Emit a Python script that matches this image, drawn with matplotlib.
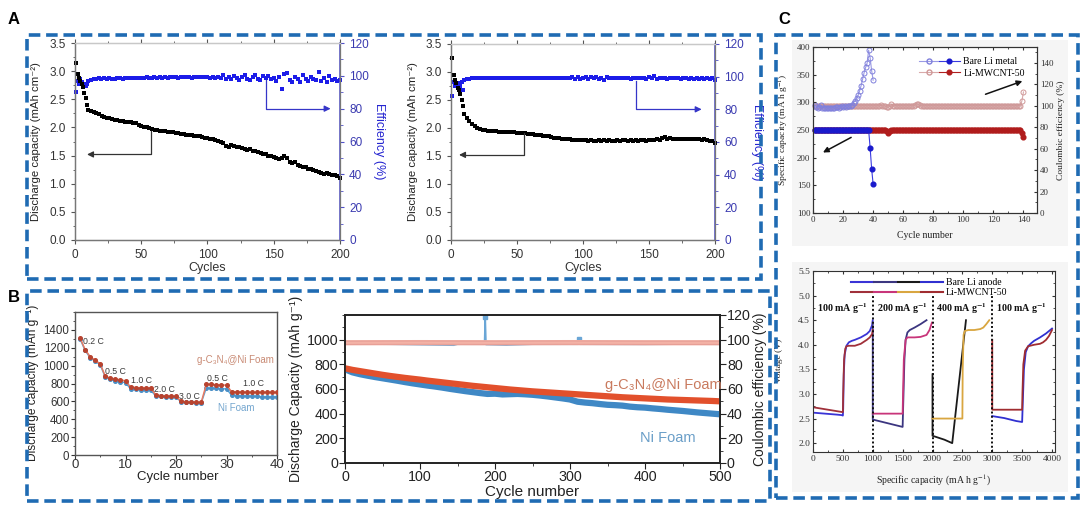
import numpy as np
import matplotlib
matplotlib.use("Agg")
import matplotlib.pyplot as plt
from matplotlib.patches import Rectangle
from matplotlib.lines import Line2D
from matplotlib.legend_handler import HandlerTuple
from matplotlib.ticker import MultipleLocator

# ---------------- DATA ----------------
# Panel A (left): discharge capacity / efficiency, cycles 1..10 then every 2 cycles
a1_cap_first = [3.15, 2.95, 2.88, 2.82, 2.78, 2.72, 2.62, 2.52, 2.40, 2.31]
a1_cap_rest = [2.29, 2.27, 2.25, 2.23, 2.21, 2.19, 2.17, 2.16, 2.15, 2.14, 2.13, 2.12, 2.11, 2.10, 2.09,
               2.09, 2.08, 2.07, 2.05, 2.03, 2.01, 2.00, 1.99, 1.97, 1.96, 1.95, 1.94, 1.94, 1.93, 1.92,
               1.92, 1.91, 1.90, 1.90, 1.89, 1.88, 1.87, 1.87, 1.86, 1.85, 1.84, 1.84, 1.83, 1.82, 1.81,
               1.80, 1.79, 1.78, 1.76, 1.74, 1.72, 1.67, 1.66, 1.68, 1.67, 1.66, 1.66, 1.64, 1.62, 1.60,
               1.61, 1.59, 1.58, 1.56, 1.55, 1.53, 1.52, 1.50, 1.49, 1.47, 1.45, 1.44, 1.46, 1.49, 1.45,
               1.38, 1.36, 1.39, 1.34, 1.31, 1.30, 1.29, 1.27, 1.26, 1.24, 1.22, 1.20, 1.19, 1.18, 1.19,
               1.17, 1.15, 1.16, 1.13, 1.11]
a1_eff_first = [90, 97, 95, 98, 96, 94, 95, 94, 95, 97]
a1_eff_rest = [97.5, 98.0, 98.2, 98.5, 98.0, 98.4, 98.1, 98.6, 98.3, 98.0, 98.5, 98.7, 98.2, 98.6, 98.8,
               98.4, 98.7, 98.5, 98.9, 98.6, 98.8, 99.0, 98.7, 98.9, 99.1, 98.8, 99.0, 98.9, 99.2, 98.9,
               99.1, 99.0, 99.2, 98.9, 99.3, 99.0, 99.1, 99.2, 98.9, 99.3, 99.1, 99.0, 99.4, 99.1, 99.2,
               98.8, 99.5, 98.7, 99.3, 98.5, 100.5, 98.2, 99.0, 97.8, 100.2, 98.6, 97.5, 99.4, 100.3, 98.0,
               97.6, 99.1, 100.6, 98.3, 97.2, 99.8, 98.4, 100.1, 97.9, 98.8, 97.0, 99.5, 92.0, 100.9, 101.5,
               97.3, 96.1, 99.2, 98.0, 96.5, 100.4, 97.8, 96.9, 99.0, 98.3, 97.4, 102.3, 97.0, 98.6, 96.4,
               99.7, 97.2, 98.1, 96.8, 97.5]

# Panel A (right)
a2_cap_first = [3.25, 2.95, 2.85, 2.80, 2.72, 2.68, 2.60, 2.50, 2.40, 2.25]
a2_cap_rest = [2.18, 2.12, 2.08, 2.04, 2.00, 1.98, 1.97, 1.96, 1.95, 1.95, 1.94, 1.94, 1.93, 1.93, 1.92,
               1.92, 1.92, 1.92, 1.92, 1.91, 1.91, 1.91, 1.91, 1.90, 1.90, 1.89, 1.88, 1.88, 1.87, 1.86,
               1.85, 1.85, 1.84, 1.83, 1.83, 1.82, 1.81, 1.81, 1.80, 1.80, 1.79, 1.79, 1.79, 1.78, 1.78,
               1.78, 1.77, 1.78, 1.77, 1.76, 1.78, 1.77, 1.78, 1.77, 1.78, 1.77, 1.76, 1.78, 1.77, 1.78,
               1.78, 1.77, 1.78, 1.77, 1.78, 1.77, 1.78, 1.78, 1.77, 1.78, 1.79, 1.78, 1.80, 1.78, 1.82,
               1.84, 1.81, 1.82, 1.80, 1.81, 1.80, 1.81, 1.80, 1.81, 1.80, 1.80, 1.81, 1.80, 1.80, 1.79,
               1.80, 1.78, 1.76, 1.77, 1.74]
a2_eff_first = [88, 97, 94, 96, 95, 96, 94, 97, 92, 98]
a2_eff_rest = [98.5, 98.8, 99.0, 98.9, 99.1, 99.0, 99.2, 99.0, 99.1, 99.2, 99.0, 99.2, 99.1, 99.3, 99.0,
               99.2, 99.1, 99.3, 99.2, 99.0, 99.2, 99.3, 99.1, 99.2, 99.0, 99.3, 99.2, 99.1, 99.3, 99.2,
               99.0, 99.2, 99.3, 99.1, 99.2, 99.4, 99.0, 99.3, 99.1, 99.2, 99.5, 98.8, 99.6, 98.7, 99.4,
               100.0, 98.6, 99.7, 98.9, 100.1, 98.5, 99.3, 97.8, 99.6, 99.0, 99.3, 99.1, 98.9, 99.2, 99.4,
               99.0, 99.2, 98.8, 99.3, 99.1, 98.9, 99.2, 99.3, 98.8, 99.5, 99.1, 100.2, 98.7, 99.4, 99.0,
               99.3, 98.8, 99.1, 99.4, 98.9, 99.2, 98.6, 99.0, 99.3, 98.8, 99.1, 98.5, 99.0, 98.7, 99.2,
               98.6, 98.9, 98.4, 99.1, 98.2]

# Panel B (left): rate capability
b1_cycles = list(range(1, 41))
b1_gcn = [1310, 1180, 1100, 1060, 1020, 880, 860, 850, 840, 830,
          760, 755, 750, 750, 750, 670, 665, 660, 660, 655,
          600, 595, 595, 590, 590, 790, 790, 785, 785, 780,
          710, 705, 705, 700, 700, 700, 700, 700, 700, 700]
b1_ni = [1300, 1170, 1090, 1050, 1010, 870, 845, 830, 820, 810,
         740, 735, 730, 730, 725, 660, 655, 650, 650, 650,
         595, 590, 590, 585, 585, 750, 745, 745, 740, 740,
         670, 665, 660, 660, 655, 655, 650, 650, 650, 650]
b1_rates = ["0.2 C", "0.5 C", "1.0 C", "2.0 C", "3.0 C", "0.5 C", "1.0 C"]

# Panel B (right): long cycling at every 10 cycles
b2_cycles = list(range(0, 501, 10))
b2_gcn = [768, 755, 745, 735, 725, 715, 706, 698, 690, 683, 676, 668, 661, 654, 647, 640, 633, 626, 620,
          614, 608, 602, 596, 591, 586, 581, 577, 573, 569, 565, 561, 557, 553, 549, 545, 541, 537, 533,
          530, 527, 524, 521, 518, 515, 513, 511, 509, 507, 505, 503, 500]
b2_ni = [760, 735, 720, 708, 697, 687, 677, 667, 656, 646, 637, 628, 620, 611, 601, 592, 583, 575, 567,
         560, 562, 556, 558, 560, 557, 553, 547, 540, 532, 524, 515, 497, 490, 485, 478, 472, 469, 465,
         457, 452, 449, 443, 438, 432, 427, 422, 416, 410, 405, 400, 395]
b2_gcn_ce_cycles = [1, 100, 200, 300, 400, 500]
b2_gcn_ce = [97.5, 97.6, 97.5, 97.6, 97.5, 97.5]
b2_ni_ce_cycles = [1, 5, 60, 145, 150, 186, 187, 188, 215, 250, 311, 312, 313, 400, 450, 500]
b2_ni_ce = [99, 96.5, 96.3, 95.5, 96.3, 96.3, 118, 96.0, 95.6, 96.3, 96.3, 100.5, 96.3, 96.2, 96.4, 96.3]

# Panel C (top): cycling of bare Li vs Li-MWCNT-50
c1_bare_cycles = list(range(1, 41))
c1_bare_cap = [250, 250, 250, 250, 250, 250, 250, 250, 250, 250,
               250, 250, 250, 250, 250, 250, 250, 250, 250, 250,
               250, 250, 250, 250, 250, 250, 250, 250, 250, 250,
               250, 250, 250, 250, 250, 250, 250, 218, 180, 152]
c1_bare_ce = [101, 99, 98.5, 99, 101, 98.5, 98, 98.5, 98, 98,
              98, 98.5, 98, 98.5, 99, 99, 98.5, 99, 99.5, 99,
              99.5, 99, 100, 99.5, 100, 101, 103, 105, 107, 110,
              114, 119, 125, 131, 136, 140, 152, 145, 133, 124]
c1_mw_cycles = list(range(1, 141))
c1_mw_cap = [250, 250, 250, 250, 250, 250, 250, 250, 250, 250, 250, 250, 250, 250, 250, 250, 250, 250, 250, 250,
             250, 250, 250, 250, 250, 250, 250, 250, 250, 250, 250, 250, 250, 250, 250, 250, 250, 250, 250, 250,
             250, 250, 250, 250, 250, 250, 250, 250, 249, 244, 249, 250, 250, 250, 250, 250, 250, 250, 250, 250,
             250, 250, 250, 250, 250, 250, 250, 250, 250, 250, 250, 250, 250, 250, 250, 250, 250, 250, 250, 250,
             250, 250, 250, 250, 250, 250, 250, 250, 250, 250, 250, 250, 250, 250, 250, 250, 250, 250, 250, 250,
             250, 250, 250, 250, 250, 250, 250, 250, 250, 250, 250, 250, 250, 250, 250, 250, 250, 250, 250, 250,
             250, 250, 250, 250, 250, 250, 250, 250, 250, 250, 250, 250, 250, 250, 250, 250, 250, 250, 244, 238]
c1_mw_ce = [100, 100, 100, 100, 100, 100, 100, 100, 100, 100, 100, 100, 100, 100, 100, 100, 100, 100, 100, 100,
            100, 100, 100, 100, 100, 100, 100, 100, 100, 100, 100, 100, 100, 100, 100, 100, 100, 100, 100, 100,
            100, 100, 100, 100, 100.8, 100, 100, 100, 99.3, 98.6, 100.3, 101.5, 100, 100, 100, 100, 100, 100, 100, 100,
            100, 100, 100, 100, 100, 100, 100, 101.2, 102, 101.6, 100.6, 100, 100, 100, 100, 100, 100, 100, 100, 100,
            100, 100, 100, 100, 100, 100, 100, 100, 100, 100, 100, 100, 100, 100, 100, 100, 100, 100, 100, 100,
            100, 100, 100, 100, 100, 100, 100, 100, 100, 100, 100, 100, 100, 100, 100, 100, 100, 100, 100, 100,
            100, 100, 100, 100, 100, 100, 100, 100, 100, 100, 100, 100, 100, 100, 100, 100, 100, 100, 105, 113]

# Panel C (bottom): voltage profiles, 4 current densities
c2_rates = ["100 mA g$^{\\mathbf{-1}}$", "200 mA g$^{\\mathbf{-1}}$", "400 mA g$^{\\mathbf{-1}}$", "100 mA g$^{\\mathbf{-1}}$"]
c2_bare_x = [[0, 100, 200, 300, 400, 480, 500, 505, 515, 530, 560, 600, 650, 700, 800, 900, 950, 990, 1000],
             [1000, 1000, 1100, 1200, 1300, 1400, 1500, 1510, 1530, 1550, 1580, 1620, 1700, 1800, 1900],
             [2000, 2000, 2100, 2200, 2330, 2560],
             [3000, 3100, 3200, 3300, 3400, 3500, 3510, 3530, 3560, 3600, 3650, 3700, 3800, 3900, 4000]]
c2_bare_y = [[2.62, 2.61, 2.60, 2.59, 2.58, 2.57, 2.56, 2.70, 3.40, 3.80, 3.98, 4.05, 4.08, 4.10, 4.15, 4.22, 4.28, 4.40, 4.50],
             [4.45, 2.48, 2.45, 2.42, 2.39, 2.36, 2.33, 2.80, 3.70, 4.10, 4.25, 4.30, 4.35, 4.42, 4.50],
             [3.40, 2.15, 2.11, 2.07, 2.00, 4.50],
             [2.55, 2.53, 2.51, 2.48, 2.45, 2.43, 2.80, 3.50, 3.85, 3.97, 4.03, 4.08, 4.15, 4.23, 4.33]]
c2_mw_x = [[0, 100, 200, 300, 400, 500, 505, 520, 540, 560, 600, 700, 800, 900, 950, 990, 1000],
           [1000, 1500, 1505, 1520, 1550, 1580, 1620, 1700, 1800, 1900, 1950, 1990],
           [2000, 2500, 2505, 2520, 2540, 2600, 2700, 2800, 2850, 2900, 2950],
           [3000, 3000, 3500, 3505, 3520, 3550, 3600, 3700, 3800, 3850, 3900, 3950, 4000]]
c2_mw_y = [[2.73, 2.71, 2.69, 2.67, 2.65, 2.63, 3.00, 3.70, 3.92, 3.97, 3.98, 3.98, 4.02, 4.10, 4.15, 4.22, 4.30],
           [2.60, 2.60, 2.90, 3.70, 4.10, 4.15, 4.15, 4.15, 4.16, 4.20, 4.30, 4.45],
           [2.50, 2.50, 3.50, 4.20, 4.28, 4.30, 4.30, 4.32, 4.35, 4.42, 4.50],
           [4.10, 2.68, 2.68, 3.00, 3.60, 3.88, 3.97, 4.00, 4.02, 4.05, 4.10, 4.18, 4.30]]
c2_bare_colors = ["#3a34d6", "#3c3680", "#1a1a1a", "#3030d0"]
c2_mw_colors = ["#a0303a", "#c8357a", "#d9a640", "#a02c30"]

# ---------------- STYLE / LAYOUT ----------------
W, H = 1084, 507
fig = plt.figure(figsize=(W / 100, H / 100), dpi=100)
SANS = ["Liberation Sans", "DejaVu Sans"]
SERIF = ["Liberation Serif", "DejaVu Serif"]
BOXC = "#1f6bb3"


def rect(x0, y0, x1, y1):
    return [x0 / W, 1 - y1 / H, (x1 - x0) / W, (y1 - y0) / H]


def ftext(x, y, s, **kw):
    return fig.text(x / W, 1 - y / H, s, **kw)


def box(x0, y0, x1, y1):
    fig.patches.append(Rectangle((x0 / W, 1 - y1 / H), (x1 - x0) / W, (y1 - y0) / H,
                                 transform=fig.transFigure, fill=False, ec=BOXC, lw=2.6,
                                 ls=(0, (3.2, 1.6)), zorder=5))


# light background behind panel C plots
fig.patches.append(Rectangle((792 / W, 1 - 246 / H), (1068 - 792) / W, (246 - 40) / H,
                             transform=fig.transFigure, fc="#f5f5f5", ec="none", zorder=-10))
fig.patches.append(Rectangle((792 / W, 1 - 492 / H), (1068 - 792) / W, (492 - 262) / H,
                             transform=fig.transFigure, fc="#f5f5f5", ec="none", zorder=-10))

# Dashed boxes
box(27, 35, 761, 279)
box(27, 291, 770, 501)
box(776, 35, 1078, 498)

# Panel letters
ftext(8, 20, "A", fontsize=12, fontweight="bold", family=SANS, va="center")
ftext(8, 297, "B", fontsize=12, fontweight="bold", family=SANS, va="center")
ftext(778, 20, "C", fontsize=12, fontweight="bold", family=SANS, va="center")


# ---------------- PANEL A ----------------
def panel_a(r, cap_first, cap_rest, eff_first, eff_rest, cap_arrow, eff_arrow, ylab_x, effl_x, xl_x):
    cyc = list(range(1, 11)) + list(range(12, 12 + 2 * len(cap_rest), 2))
    cyc_e = list(range(1, 11)) + list(range(12, 12 + 2 * len(eff_rest), 2))
    ax = fig.add_axes(rect(*r))
    axr = ax.twinx()
    ax.set_zorder(2)
    ax.patch.set_visible(False)
    axr.plot(cyc_e, eff_first + eff_rest, "s", color="#1c1ce8", ms=3.4, mew=0, clip_on=False)
    ax.plot(cyc, cap_first + cap_rest, "s", color="black", ms=3.4, mew=0, clip_on=False)
    ax.set_xlim(0, 200)
    ax.set_ylim(0, 3.5)
    axr.set_ylim(0, 120)
    ax.xaxis.set_major_locator(MultipleLocator(50))
    ax.xaxis.set_minor_locator(MultipleLocator(25))
    ax.yaxis.set_major_locator(MultipleLocator(0.5))
    ax.yaxis.set_minor_locator(MultipleLocator(0.25))
    axr.yaxis.set_major_locator(MultipleLocator(20))
    axr.yaxis.set_minor_locator(MultipleLocator(10))
    ax.yaxis.set_major_formatter(matplotlib.ticker.FormatStrFormatter("%.1f"))
    for a in (ax, axr):
        for s in a.spines.values():
            s.set_color("#777777")
            s.set_linewidth(0.9)
        a.spines["top"].set_color("#c8c8c8")
    axr.spines["right"].set_color("#5050c8")
    axr.spines["right"].set_linewidth(1.1)
    ax.tick_params(axis="both", which="both", direction="out", colors="#555555", labelcolor="#333333",
                   labelsize=8.5)
    ax.tick_params(which="major", length=3)
    ax.tick_params(which="minor", length=1.8)
    ax.tick_params(axis="x", top=True, which="both")
    axr.tick_params(axis="y", which="both", direction="out", colors="#5050c8", labelcolor="#3a3ab0",
                    labelsize=8.5)
    axr.tick_params(which="major", length=3)
    axr.tick_params(which="minor", length=1.8)
    for lab in ax.get_xticklabels() + ax.get_yticklabels() + axr.get_yticklabels():
        lab.set_fontfamily(SANS)
    # arrows
    (vx, vy0, vy1, hx) = cap_arrow
    ax.plot([vx, vx, hx + 6], [vy0, vy1, vy1], color="#333333", lw=0.9)
    ax.annotate("", xy=(hx, vy1), xytext=(hx + 8, vy1),
                arrowprops=dict(arrowstyle="-|>", color="#333333", lw=0.9, mutation_scale=9))
    (ex, ey0, ey1, ehx) = eff_arrow
    axr.plot([ex, ex, ehx - 6], [ey0, ey1, ey1], color="#3535c8", lw=0.9)
    axr.annotate("", xy=(ehx, ey1), xytext=(ehx - 8, ey1),
                 arrowprops=dict(arrowstyle="-|>", color="#3535c8", lw=0.9, mutation_scale=9))
    ymid = (r[1] + r[3]) / 2
    ftext(ylab_x, ymid, "Discharge capacity (mAh cm⁻²)", rotation=90, ha="center", va="center",
          fontsize=8.2, family=SANS, color="#222222")
    ftext(effl_x, ymid, "Efficiency (%)", rotation=270, ha="center", va="center",
          fontsize=9, family=SANS, color="#2424d0")
    ftext(xl_x, 268, "Cycles", ha="center", va="center", fontsize=9, family=SANS, color="#333333")
    return ax, axr


panel_a((75, 43, 340, 240), a1_cap_first, a1_cap_rest, a1_eff_first, a1_eff_rest,
        (57, 1.93, 1.52, 7), (144, 97.5, 80, 195), 36, 379, 207)
panel_a((451, 44, 715, 240), a2_cap_first, a2_cap_rest, a2_eff_first, a2_eff_rest,
        (55, 1.91, 1.52, 4), (140, 97.5, 80, 192), 413, 757, 583)

# ---------------- PANEL B (left) ----------------
axb1 = fig.add_axes(rect(75, 312, 277, 455))
axb1.plot(b1_cycles, b1_ni, "-", color="#5aa5d8", lw=1.1, marker="o", ms=2.6, mfc="#4a8fc6",
          mec="#4a8fc6", zorder=2)
axb1.plot(b1_cycles, b1_gcn, "-", color="#e87a62", lw=1.1, marker="o", ms=2.6, mfc="#b8432f",
          mec="#b8432f", zorder=3)
axb1.set_xlim(0, 40)
axb1.set_ylim(0, 1600)
axb1.xaxis.set_major_locator(MultipleLocator(10))
axb1.xaxis.set_minor_locator(MultipleLocator(5))
axb1.set_yticks(list(range(0, 1401, 200)))
axb1.yaxis.set_minor_locator(MultipleLocator(100))
for s in axb1.spines.values():
    s.set_color("#555555")
    s.set_linewidth(1.0)
axb1.tick_params(axis="y", which="both", direction="out", labelsize=8.3, colors="#333333", pad=1)
axb1.tick_params(axis="x", which="both", direction="out", labelsize=9.5, colors="#333333", pad=0)
axb1.tick_params(which="major", length=3)
axb1.tick_params(which="minor", length=1.6)
for lab in axb1.get_xticklabels() + axb1.get_yticklabels():
    lab.set_fontfamily(SANS)
rate_pos = [(3.6, 1265), (8.0, 930), (13.2, 835), (17.8, 735), (22.7, 660), (28.2, 860), (35.3, 800)]
for (x, y), t in zip(rate_pos, b1_rates):
    axb1.text(x, y, t, fontsize=6.3, family=SANS, color="#3a3a3a", ha="center", va="center")
axb1.text(31.8, 1060, "g-C₃N₄@Ni Foam", fontsize=7, family=SANS, color="#c98a74", ha="center", va="center")
axb1.text(32.0, 530, "Ni Foam", fontsize=7, family=SANS, color="#74a6cf", ha="center", va="center")
ftext(33, 383, "Discharge capacity (mAh g⁻¹)", rotation=90, ha="center", va="center",
      fontsize=8.6, family=SANS, color="#222222")
ftext(178, 477, "Cycle number", ha="center", va="center", fontsize=9.5, family=SANS, color="#222222")

# ---------------- PANEL B (right) ----------------
axb2 = fig.add_axes(rect(345, 315, 720, 463))
axb2r = axb2.twinx()
axb2.set_zorder(2)
axb2.patch.set_visible(False)
axb2r.plot(b2_ni_ce_cycles, b2_ni_ce, "-", color="#6aa6d6", lw=1.2, marker="s", ms=2.2,
           markevery=[6, 11])
axb2r.plot(b2_gcn_ce_cycles, b2_gcn_ce, "-", color="#f3b2a6", lw=3.8)
axb2r.plot(b2_gcn_ce_cycles, [v + 1.3 for v in b2_gcn_ce], "-", color="#e49a92", lw=0.6)
axb2r.plot(b2_gcn_ce_cycles, [v - 1.3 for v in b2_gcn_ce], "-", color="#e49a92", lw=0.6)
axb2.plot(b2_cycles, b2_ni, "-", color="#3f88c5", lw=4.5, solid_capstyle="butt")
axb2.plot(b2_cycles, b2_gcn, "-", color="#e2502c", lw=4.5, solid_capstyle="butt")
axb2.set_xlim(0, 500)
axb2.set_ylim(0, 1200)
axb2r.set_ylim(0, 120)
axb2.set_yticks([0, 200, 400, 600, 800, 1000])
axb2.xaxis.set_major_locator(MultipleLocator(100))
axb2.xaxis.set_minor_locator(MultipleLocator(50))
axb2.yaxis.set_minor_locator(MultipleLocator(100))
axb2r.yaxis.set_major_locator(MultipleLocator(20))
axb2r.yaxis.set_minor_locator(MultipleLocator(10))
for a in (axb2, axb2r):
    for s in a.spines.values():
        s.set_color("#222222")
        s.set_linewidth(1.2)
    a.tick_params(which="both", direction="out", labelsize=10.3, colors="#222222", pad=1)
    a.tick_params(which="major", length=4)
    a.tick_params(which="minor", length=2.2)
    for lab in a.get_xticklabels() + a.get_yticklabels():
        lab.set_fontfamily(SANS)
axb2.text(425, 630, "g-C₃N₄@Ni Foam", fontsize=10.5, family=SANS, color="#c97a5e", ha="center", va="center")
axb2.text(430, 200, "Ni Foam", fontsize=10.5, family=SANS, color="#6a9ec8", ha="center", va="center")
ftext(296, 389, "Discharge Capacity (mAh g⁻¹)", rotation=90, ha="center", va="center",
      fontsize=10, family=SANS, color="#222222")
ftext(760, 389, "Coulombic efficiency (%)", rotation=90, ha="center", va="center",
      fontsize=10, family=SANS, color="#222222")
ftext(532, 492, "Cycle number", ha="center", va="center", fontsize=11, family=SANS, color="#222222")

# ---------------- PANEL C (top) ----------------
axc1 = fig.add_axes(rect(813, 47, 1037, 213))
axc1r = axc1.twinx()
axc1.set_zorder(2)
axc1.patch.set_visible(False)
axc1r.patch.set_visible(True)
axc1r.patch.set_facecolor("white")
axc1r.plot(c1_mw_cycles, c1_mw_ce, "-", color="#d9aaaa", lw=0.8, marker="o", ms=3.6, mfc="none",
           mec="#cf9898", mew=0.7, clip_on=False)
axc1r.plot(c1_bare_cycles, c1_bare_ce, "-", color="#9a9ae4", lw=0.8, marker="o", ms=3.6, mfc="none",
           mec="#8080dc", mew=0.7, clip_on=False)
axc1.plot(c1_mw_cycles, c1_mw_cap, "-", color="#b02020", lw=0.8, marker="o", ms=3.4, mfc="#b01c1c",
          mec="#b01c1c", clip_on=False)
axc1.plot(c1_bare_cycles, c1_bare_cap, "-", color="#3a3ae0", lw=0.8, marker="o", ms=3.4, mfc="#1a1acc",
          mec="#1a1acc", clip_on=False)
axc1.set_xlim(0, 149)
axc1.set_ylim(100, 400)
axc1r.set_ylim(0, 155)
axc1.xaxis.set_major_locator(MultipleLocator(20))
axc1.xaxis.set_minor_locator(MultipleLocator(10))
axc1.yaxis.set_major_locator(MultipleLocator(50))
axc1.yaxis.set_minor_locator(MultipleLocator(25))
axc1r.yaxis.set_major_locator(MultipleLocator(20))
axc1r.yaxis.set_minor_locator(MultipleLocator(10))
for a in (axc1, axc1r):
    for s in a.spines.values():
        s.set_color("#333333")
        s.set_linewidth(0.8)
    a.tick_params(which="both", direction="in", labelsize=6.5, colors="#333333", pad=2)
    a.tick_params(which="major", length=2.5)
    a.tick_params(which="minor", length=1.4)
    for lab in a.get_xticklabels() + a.get_yticklabels():
        lab.set_fontfamily(SERIF)
axc1.tick_params(axis="x", which="both", top=True)
axc1.annotate("", xy=(5, 207), xytext=(27, 239),
              arrowprops=dict(arrowstyle="-|>", color="#111111", lw=1.1, mutation_scale=8))
axc1r.annotate("", xy=(141, 124), xytext=(113, 110),
               arrowprops=dict(arrowstyle="-|>", color="#111111", lw=1.1, mutation_scale=8))
h_bare = (Line2D([], [], color="#9a9ae4", lw=0.8, marker="o", ms=3.6, mfc="none", mec="#8080dc"),
          Line2D([], [], color="#3a3ae0", lw=0.8, marker="o", ms=3.4, mfc="#1a1acc", mec="#1a1acc"))
h_mw = (Line2D([], [], color="#d9aaaa", lw=0.8, marker="o", ms=3.6, mfc="none", mec="#cf9898"),
        Line2D([], [], color="#b02020", lw=0.8, marker="o", ms=3.4, mfc="#b01c1c", mec="#b01c1c"))
leg = axc1.legend([h_bare, h_mw], ["Bare Li metal", "Li-MWCNT-50"],
                  handler_map={tuple: HandlerTuple(ndivide=None, pad=0)}, loc="upper right",
                  bbox_to_anchor=(0.985, 0.99), frameon=False, handlelength=4.2, handletextpad=0.4,
                  labelspacing=0.25, prop={"family": SERIF, "size": 7})
ftext(784, 130, "Specific capacity (mA h g$^{-1}$)", rotation=90, ha="center", va="center",
      fontsize=6.8, family=SERIF, color="#222222", math_fontfamily="stix")
ftext(1061, 130, "Coulombic efficiency (%)", rotation=90, ha="center", va="center",
      fontsize=6.8, family=SERIF, color="#222222")
ftext(925, 236, "Cycle number", ha="center", va="center", fontsize=7, family=SERIF, color="#222222")

# ---------------- PANEL C (bottom) ----------------
axc2 = fig.add_axes(rect(813, 271, 1055, 452))
axc2.set_facecolor("white")
for xs, ys, c in zip(c2_bare_x, c2_bare_y, c2_bare_colors):
    axc2.plot(xs, ys, "-", color=c, lw=1.3)
for xs, ys, c in zip(c2_mw_x, c2_mw_y, c2_mw_colors):
    axc2.plot(xs, ys, "-", color=c, lw=1.3)
axc2.set_xlim(0, 4050)
axc2.set_ylim(1.82, 5.5)
for xv in (1000, 2000, 3000):
    axc2.axvline(xv, ymin=0, ymax=(5.0 - 1.82) / (5.5 - 1.82), color="#111111", ls=(0, (1, 1.2)), lw=1.4)
axc2.xaxis.set_major_locator(MultipleLocator(500))
axc2.xaxis.set_minor_locator(MultipleLocator(250))
axc2.yaxis.set_major_locator(MultipleLocator(0.5))
axc2.yaxis.set_minor_locator(MultipleLocator(0.25))
axc2.yaxis.set_major_formatter(matplotlib.ticker.FormatStrFormatter("%.1f"))
for s in axc2.spines.values():
    s.set_color("#333333")
    s.set_linewidth(0.8)
axc2.tick_params(which="both", direction="in", labelsize=6.8, colors="#333333", pad=2, top=True, right=True)
axc2.tick_params(which="major", length=2.5)
axc2.tick_params(which="minor", length=1.4)
for lab in axc2.get_xticklabels() + axc2.get_yticklabels():
    lab.set_fontfamily(SERIF)
for i, t in enumerate(c2_rates):
    axc2.text(490 + 1000 * i, 4.74, t, ha="center", va="center", fontsize=7.2, fontweight="bold",
              family=SERIF, math_fontfamily="stix", color="#111111")
hb = tuple(Line2D([], [], color=c, lw=1.5) for c in c2_bare_colors)
hm = tuple(Line2D([], [], color=c, lw=1.5) for c in c2_mw_colors)
axc2.legend([hb, hm], ["Bare Li anode", "Li-MWCNT-50"],
            handler_map={tuple: HandlerTuple(ndivide=None, pad=0.15)}, loc="upper center",
            bbox_to_anchor=(0.48, 1.01), frameon=False, handlelength=9.4, handletextpad=0.3,
            labelspacing=0.15, prop={"family": SERIF, "size": 7})
ftext(779, 361, "Voltage (V)", rotation=90, ha="center", va="center", fontsize=6.8, family=SERIF,
      color="#222222")
ftext(934, 480, "Specific capacity (mA h g$^{-1}$)", ha="center", va="center", fontsize=7,
      family=SERIF, color="#222222", math_fontfamily="stix")

fig.savefig("out.png", dpi=100)
